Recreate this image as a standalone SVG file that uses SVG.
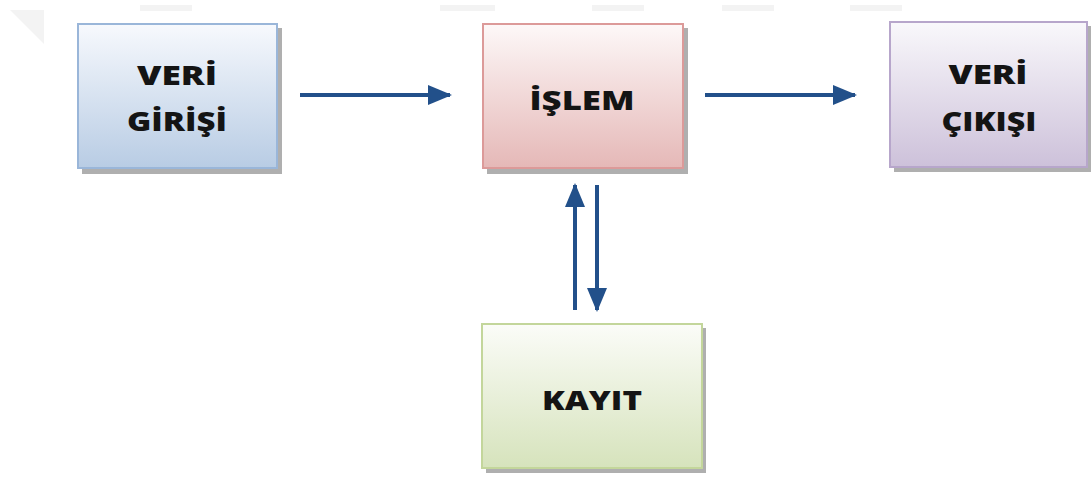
<svg xmlns="http://www.w3.org/2000/svg" width="1092" height="479" viewBox="0 0 1092 479">
<style>
.lbl{font-family:"Open Sans","Liberation Sans",sans-serif;font-weight:800;font-size:27px;fill:#141414;text-anchor:middle}
.shadow{fill:#6d6d6d;opacity:0.55}
.conn{stroke:#22508a;stroke-width:4;fill:none}
.ghost{fill:#f3f3f3}
</style>
<defs>
<linearGradient id="gBlue" x1="0" y1="0" x2="0" y2="1"><stop offset="0" stop-color="#f7f9fd"/><stop offset="1" stop-color="#b8cce4"/></linearGradient>
<linearGradient id="gRed" x1="0" y1="0" x2="0" y2="1"><stop offset="0" stop-color="#fdf8f8"/><stop offset="1" stop-color="#e5b8b7"/></linearGradient>
<linearGradient id="gPurple" x1="0" y1="0" x2="0" y2="1"><stop offset="0" stop-color="#f9f8fb"/><stop offset="1" stop-color="#cdc1da"/></linearGradient>
<linearGradient id="gGreen" x1="0" y1="0" x2="0" y2="1"><stop offset="0" stop-color="#fbfcf8"/><stop offset="1" stop-color="#d6e3bc"/></linearGradient>
<marker id="ah" markerWidth="6" markerHeight="5" refX="5.5" refY="2.5" orient="auto" markerUnits="strokeWidth"><path d="M0,0 L6,2.5 L0,5 Z" fill="#22508a"/></marker>
</defs>
<g id="ghost">
<path class="ghost" d="M10,10 L44,10 L44,44 Z"/>
<rect class="ghost" x="140" y="5" width="52" height="6"/>
<rect class="ghost" x="440" y="5" width="55" height="6"/>
<rect class="ghost" x="592" y="5" width="52" height="6"/>
<rect class="ghost" x="722" y="5" width="52" height="6"/>
<rect class="ghost" x="850" y="5" width="52" height="6"/>
</g>
<g id="connectors">
<line class="conn" x1="300" y1="95" x2="450" y2="95" marker-end="url(#ah)"/>
<line class="conn" x1="705" y1="95" x2="855" y2="95" marker-end="url(#ah)"/>
<line class="conn" x1="575" y1="310" x2="575" y2="185" marker-end="url(#ah)"/>
<line class="conn" x1="597" y1="185" x2="597" y2="310" marker-end="url(#ah)"/>
</g>
<g id="veri-girisi">
<rect class="shadow" x="82" y="28" width="200" height="146"/>
<rect x="78" y="24" width="199" height="144" fill="url(#gBlue)" stroke="#9ab6d9" stroke-width="2"/>
<text class="lbl" x="177" y="85" textLength="80" lengthAdjust="spacingAndGlyphs">VERİ</text>
<text class="lbl" x="177" y="131" textLength="100" lengthAdjust="spacingAndGlyphs">GİRİŞİ</text>
</g>
<g id="islem">
<rect class="shadow" x="487" y="28" width="201" height="146"/>
<rect x="483" y="24" width="200" height="144" fill="url(#gRed)" stroke="#dc9a99" stroke-width="2"/>
<text class="lbl" x="582" y="110" textLength="105" lengthAdjust="spacingAndGlyphs">İŞLEM</text>
</g>
<g id="veri-cikisi">
<rect class="shadow" x="894" y="26" width="197" height="146"/>
<rect x="890" y="22" width="197" height="145" fill="url(#gPurple)" stroke="#b7a6cb" stroke-width="2"/>
<text class="lbl" x="988" y="84" textLength="79" lengthAdjust="spacingAndGlyphs">VERİ</text>
<text class="lbl" x="989" y="131" textLength="95" lengthAdjust="spacingAndGlyphs">ÇIKIŞI</text>
</g>
<g id="kayit">
<rect class="shadow" x="486" y="328" width="220" height="145"/>
<rect x="482" y="324" width="220" height="144" fill="url(#gGreen)" stroke="#c3d69b" stroke-width="2"/>
<text class="lbl" x="592" y="410" textLength="100" lengthAdjust="spacingAndGlyphs">KAYIT</text>
</g>
</svg>
